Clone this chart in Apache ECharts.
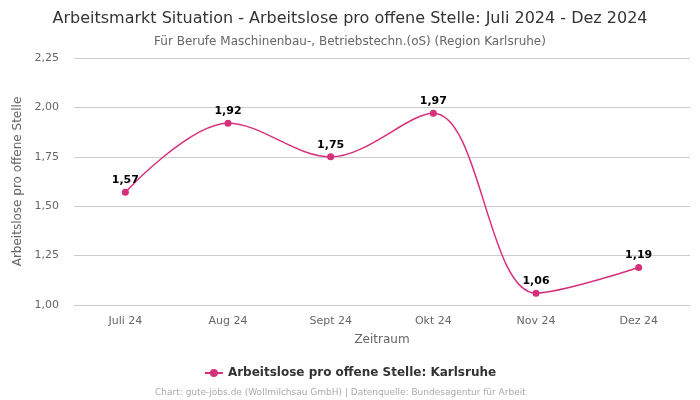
<!DOCTYPE html>
<html>
<head>
<meta charset="utf-8">
<script src="https://cdn.jsdelivr.net/npm/echarts@6/dist/echarts.min.js"></script>
<style>
  html, body { margin: 0; padding: 0; background: #fff; }
  #chart { width: 700px; height: 400px; }
</style>
</head>
<body>
<div id="chart"></div>
<script>
const months = ['Juli 24', 'Aug 24', 'Sept 24', 'Okt 24', 'Nov 24', 'Dez 24']
const values = [1.57, 1.92, 1.75, 1.97, 1.06, 1.19]
const seriesName = 'Arbeitslose pro offene Stelle: Karlsruhe'

const fmt = (v) => v.toFixed(2).replace('.', ',')

const myChart = echarts.init(document.getElementById('chart'))
const option = {
  animation: false,
  textStyle: { fontFamily: 'DejaVu Sans' },
  title: [
    {
      text: 'Arbeitsmarkt Situation - Arbeitslose pro offene Stelle: Juli 2024 - Dez 2024',
      left: 'center',
      top: 6,
      textStyle: { fontSize: 16, fontWeight: 'normal', color: '#333', fontFamily: 'DejaVu Sans' }
    },
    {
      text: 'Für Berufe Maschinenbau-, Betriebstechn.(oS) (Region Karlsruhe)',
      left: 'center',
      top: 31,
      textStyle: { fontSize: 12, fontWeight: 'normal', color: '#666', fontFamily: 'DejaVu Sans' }
    },
    {
      text: 'Chart: gute-jobs.de (Wollmilchsau GmbH) | Datenquelle: Bundesagentur für Arbeit',
      left: 150,
      top: 383,
      textStyle: { fontSize: 9, fontWeight: 'normal', color: '#aaa', fontFamily: 'DejaVu Sans' }
    }
  ],
  legend: {
    bottom: 16,
    left: 'center',
    data: [seriesName],
    itemWidth: 18,
    itemHeight: 10,
    textStyle: { fontSize: 12, fontWeight: 'bold', color: '#333' }
  },
  grid: { left: 74, right: 10, top: 58, bottom: 95 },
  xAxis: {
    type: 'category',
    data: months,
    name: 'Zeitraum',
    nameLocation: 'middle',
    nameGap: 29,
    nameTextStyle: { fontSize: 12, color: '#666' },
    axisTick: { show: false },
    axisLine: { lineStyle: { color: '#ccc' } },
    axisLabel: { color: '#666', fontSize: 11, margin: 11 }
  },
  yAxis: {
    type: 'value',
    min: 1,
    max: 2.25,
    interval: 0.25,
    name: 'Arbeitslose pro offene Stelle',
    nameLocation: 'middle',
    nameGap: 42,
    nameTextStyle: { fontSize: 12, color: '#666' },
    axisLabel: { color: '#666', fontSize: 11, formatter: fmt, margin: 15 },
    splitLine: { lineStyle: { color: '#ccc' } }
  },
  series: [
    {
      name: seriesName,
      type: 'line',
      data: values,
      smooth: 0.35,
      symbol: 'circle',
      symbolSize: 7,
      itemStyle: { color: '#d6307c' },
      lineStyle: { width: 1.5, color: '#d6307c' },
      label: {
        show: true,
        position: 'top',
        distance: 3,
        fontSize: 11,
        fontWeight: 'bold',
        color: '#000',
        formatter: (p) => fmt(p.value)
      }
    }
  ]
}
myChart.setOption(option)
</script>
</body>
</html>
